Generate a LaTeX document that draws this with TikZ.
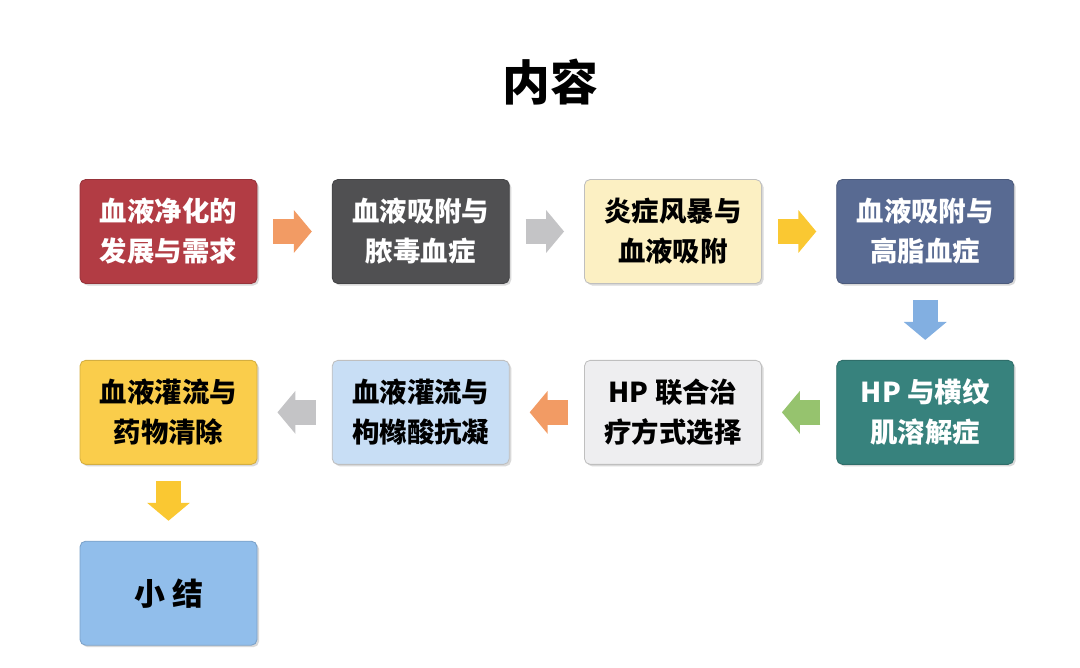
\documentclass[tikz,border=0pt]{standalone}
\usepackage{fontspec}
\setmainfont{Noto Sans CJK SC}
\usepackage{tikz}
\usetikzlibrary{positioning,arrows.meta,shadows}

\definecolor{boxred}{RGB}{178,60,68}
\definecolor{boxdark}{RGB}{80,80,82}
\definecolor{boxcream}{RGB}{252,240,195}
\definecolor{boxslate}{RGB}{88,106,146}
\definecolor{boxteal}{RGB}{55,130,125}
\definecolor{boxsilver}{RGB}{238,238,240}
\definecolor{boxsky}{RGB}{200,222,245}
\definecolor{boxgold}{RGB}{250,205,75}
\definecolor{boxblue}{RGB}{145,190,235}
\definecolor{arrorange}{RGB}{242,155,100}
\definecolor{arrgray}{RGB}{196,196,198}
\definecolor{arryellow}{RGB}{250,200,50}
\definecolor{arrblue}{RGB}{130,175,225}
\definecolor{arrgreen}{RGB}{150,195,110}

\begin{document}
\begin{tikzpicture}[
    node distance=1.9cm and 1.86cm,
    topic/.style={rectangle, rounded corners=4pt, minimum width=4.425cm, minimum height=2.6cm, inner sep=0pt, align=center,
        font=\bfseries\fontsize{19.5}{28.5}\selectfont, line width=0.6pt,
        drop shadow={shadow xshift=0.05cm, shadow yshift=-0.05cm, opacity=0.25, fill=black!60}},
    darkbox/.style={topic, fill=#1, draw=#1!85!black, text=white},
    lightbox/.style={topic, fill=#1, draw=black!25, text=black},
    flow/.style={line width=0.625cm, draw=#1, -{Triangle[length=0.45cm, width=1.05cm]}, shorten <=0.4cm, shorten >=0.5cm}
]
\useasboundingbox (0,0) rectangle (27,16.675);

% --- Title ---
\node[font=\bfseries\fontsize{34}{40}\selectfont] (title) at (13.75,14.625) {内容};

% --- Row 1 ---
\node[darkbox=boxred] (dev) at (4.2125,10.8875) {血液净化的\\发展与需求};
\node[darkbox=boxdark, right=of dev] (sepsis) {血液吸附与\\脓毒血症};
\node[lightbox=boxcream, right=of sepsis] (storm) {炎症风暴与\\血液吸附};
\node[darkbox=boxslate, right=of storm] (lipid) {血液吸附与\\高脂血症};

% --- Row 2 ---
\node[darkbox=boxteal, below=of lipid] (rhabdo) {HP 与横纹\\肌溶解症};
\node[lightbox=boxsilver, left=of rhabdo] (combo) {HP 联合治\\疗方式选择};
\node[lightbox=boxsky, left=of combo] (citrate) {血液灌流与\\枸橼酸抗凝};
\node[lightbox=boxgold, draw=boxgold!85!black, left=of citrate] (drug) {血液灌流与\\药物清除};

% --- Summary ---
\node[lightbox=boxblue, draw=boxblue!85!black, below=of drug, font=\bfseries\fontsize{22}{28}\selectfont] (summary) {小 结};

% --- Block arrows ---
\draw[flow=arrorange] (dev) -- (sepsis);
\draw[flow=arrgray] (sepsis) -- (storm);
\draw[flow=arryellow] (storm) -- (lipid);
\draw[flow=arrblue] (lipid) -- (rhabdo);
\draw[flow=arrgreen] (rhabdo) -- (combo);
\draw[flow=arrorange] (combo) -- (citrate);
\draw[flow=arrgray] (citrate) -- (drug);
\draw[flow=arryellow] (drug) -- (summary);

\end{tikzpicture}
\end{document}
